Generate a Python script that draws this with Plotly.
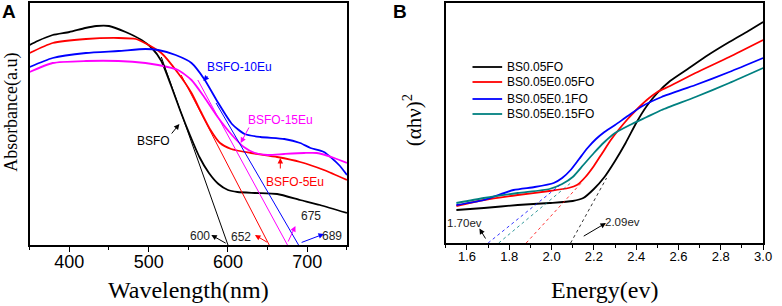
import plotly.graph_objects as go

# ---------------- Panel A data (wavelength nm, absorbance a.u.) ----------------
bsfo_wl = [350, 360, 379, 400, 420, 434, 450, 471, 491, 504, 516, 528, 540, 552, 564, 576, 588, 600, 612, 634, 662, 691, 716, 750]
bsfo_ab = [2.00, 2.04, 2.10, 2.13, 2.17, 2.19, 2.19, 2.13, 2.05, 1.97, 1.84, 1.60, 1.34, 1.10, 0.88, 0.72, 0.61, 0.55, 0.53, 0.52, 0.51, 0.45, 0.40, 0.32]

eu5_wl = [350, 379, 421, 462, 484, 500, 516, 537, 554, 566, 578, 590, 604, 629, 662, 691, 721, 750]
eu5_ab = [1.92, 2.02, 2.06, 2.07, 2.06, 2.00, 1.92, 1.72, 1.52, 1.33, 1.15, 1.02, 0.96, 0.92, 0.88, 0.83, 0.75, 0.65]

eu10_wl = [350, 379, 421, 462, 496, 512, 534, 554, 570, 587, 605, 621, 641, 671, 691, 704, 721, 740, 750]
eu10_ab = [1.78, 1.87, 1.92, 1.94, 1.96, 1.95, 1.90, 1.82, 1.66, 1.43, 1.21, 1.11, 1.08, 1.06, 1.02, 0.97, 0.93, 0.80, 0.70]

eu15_wl = [350, 379, 421, 462, 496, 512, 537, 554, 570, 587, 605, 620, 634, 650, 671, 696, 712, 734, 750]
eu15_ab = [1.73, 1.82, 1.84, 1.84, 1.82, 1.80, 1.75, 1.65, 1.48, 1.28, 1.10, 0.98, 0.92, 0.90, 0.91, 0.92, 0.92, 0.87, 0.82]

# tangent (extrapolation) lines, panel A
tan_a_black_x = [600, 516]
tan_a_black_y = [0.0, 1.88]
tan_a_red_x = [652, 541]
tan_a_red_y = [0.0, 1.70]
tan_a_mag_x = [675, 562]
tan_a_mag_y = [0.0, 1.65]
tan_a_blue_x = [689, 585]
tan_a_blue_y = [0.0, 1.42]

# ---------------- Panel B data (energy eV, (ahv)^2) ----------------
b1_e = [1.55, 1.68, 1.84, 1.99, 2.10, 2.15, 2.20, 2.25, 2.30, 2.35, 2.40, 2.45, 2.50, 2.56, 2.65, 2.74, 2.84, 2.93, 3.00]
b1_v = [0.33, 0.35, 0.38, 0.40, 0.42, 0.45, 0.54, 0.66, 0.82, 1.00, 1.20, 1.37, 1.50, 1.62, 1.75, 1.88, 2.01, 2.12, 2.21]

b2_e = [1.55, 1.68, 1.84, 1.99, 2.08, 2.12, 2.16, 2.20, 2.24, 2.28, 2.32, 2.36, 2.40, 2.45, 2.50, 2.56, 2.68, 2.84, 3.00]
b2_v = [0.37, 0.43, 0.48, 0.52, 0.55, 0.58, 0.66, 0.77, 0.90, 1.03, 1.14, 1.24, 1.33, 1.43, 1.51, 1.57, 1.70, 1.86, 2.03]

b3_e = [1.55, 1.68, 1.82, 1.92, 2.01, 2.05, 2.09, 2.13, 2.17, 2.21, 2.25, 2.30, 2.36, 2.43, 2.52, 2.68, 2.84, 3.00]
b3_v = [0.38, 0.43, 0.53, 0.56, 0.60, 0.65, 0.73, 0.84, 0.95, 1.04, 1.11, 1.18, 1.27, 1.37, 1.46, 1.58, 1.71, 1.85]

b4_e = [1.55, 1.68, 1.84, 1.99, 2.05, 2.10, 2.15, 2.20, 2.25, 2.30, 2.37, 2.45, 2.52, 2.68, 2.84, 3.00]
b4_v = [0.40, 0.45, 0.50, 0.54, 0.59, 0.66, 0.78, 0.90, 1.01, 1.10, 1.18, 1.26, 1.33, 1.46, 1.60, 1.75]

b_names = ["BS0.05FO", "BS0.05E0.05FO", "BS0.05E0.1FO", "BS0.05E0.15FO"]
b_colors = ["#000000", "#ff0000", "#0000ff", "#008080"]

tan_b_x = [[2.09, 2.26], [1.88, 2.14], [1.70, 2.04], [1.75, 2.09]]
tan_b_y = [[0.0, 0.65], [0.0, 0.60], [0.0, 0.58], [0.0, 0.60]]

W, H = 782, 306
SANS = "Liberation Sans, Arial, sans-serif"
SERIF = "Liberation Serif, Times New Roman, serif"

fig = go.Figure()

def line(x, y, color, width, xa="x", ya="y", dash="solid", shape="spline"):
    fig.add_trace(go.Scatter(x=x, y=y, mode="lines", xaxis=xa, yaxis=ya,
                             line=dict(color=color, width=width, dash=dash, shape=shape, smoothing=0.6),
                             showlegend=False, hoverinfo="skip"))

# Panel A
line(bsfo_wl, bsfo_ab, "#000000", 1.8)
line(eu5_wl, eu5_ab, "#ff0000", 1.8)
line(eu10_wl, eu10_ab, "#0000ff", 1.8)
line(eu15_wl, eu15_ab, "#ff00ff", 1.8)
line(tan_a_black_x, tan_a_black_y, "#000000", 1, shape="linear")
line(tan_a_red_x, tan_a_red_y, "#ff0000", 1, shape="linear")
line(tan_a_mag_x, tan_a_mag_y, "#ff00ff", 1, shape="linear")
line(tan_a_blue_x, tan_a_blue_y, "#0000ff", 1, shape="linear")

# Panel B
for e, v, c in zip([b1_e, b2_e, b3_e, b4_e], [b1_v, b2_v, b3_v, b4_v], b_colors):
    line(e, v, c, 1.8, xa="x2", ya="y2")
for tx, ty, c in zip(tan_b_x, tan_b_y, b_colors):
    line(tx, ty, c, 0.8, xa="x2", ya="y2", dash="dot", shape="linear")

axis_common = dict(showline=True, linecolor="black", linewidth=1.5, mirror=True,
                   showgrid=False, zeroline=False)

fig.update_layout(
    width=W, height=H, margin=dict(l=0, r=0, t=0, b=0),
    paper_bgcolor="white", plot_bgcolor="white", showlegend=False,
    xaxis=dict(domain=[30 / W, 351 / W], range=[350, 750], anchor="y",
               ticks="outside", ticklen=5, tickwidth=1.2, tickcolor="black",
               ticklabelstandoff=-5,
               dtick=100, tick0=0, minor=dict(dtick=50, ticks="outside", ticklen=3, tickcolor="black"),
               tickfont=dict(family=SANS, size=18, color="black"), **axis_common),
    yaxis=dict(domain=[1 - 245 / H, 1 - 3 / H], range=[0, 2.42], anchor="x",
               showticklabels=False, ticks="", **axis_common),
    xaxis2=dict(domain=[451 / W, 772 / W], range=[1.5, 3.0], anchor="y2",
                ticks="outside", ticklen=5, tickwidth=1.2, tickcolor="black",
                ticklabelstandoff=-4,
                dtick=0.2, tick0=1.6, tickformat=".1f",
                minor=dict(dtick=0.1, ticks="outside", ticklen=3, tickcolor="black"),
                tickfont=dict(family=SANS, size=13, color="black"), **axis_common),
    yaxis2=dict(domain=[1 - 243 / H, 1 - 3 / H], range=[0, 2.40], anchor="x2",
                showticklabels=False, ticks="", **axis_common),
)

def ptext(px, py, text, size, family, color="black", angle=0, bold=False):
    fig.add_annotation(x=px / W, y=1 - py / H, xref="paper", yref="paper",
                       text=f"<b>{text}</b>" if bold else text, showarrow=False,
                       textangle=angle, xanchor="center", yanchor="middle",
                       font=dict(family=family, size=size, color=color))

# axis titles & panel labels
ptext(191, 290, "Wavelength(nm)", 24, SERIF)
ptext(612, 290, "Energy(ev)", 24, SERIF)
ptext(11, 112, "Absorbance(a.u)", 18, SERIF, angle=-90)
ptext(418, 120, "(αhν)<sup>2</sup>", 21, SERIF, angle=-90)
ptext(9, 12, "A", 19, SANS, bold=True)
ptext(405, 12, "B", 19, SANS, bold=True)

def dtext(x, y, text, color, xr="x", yr="y", size=12):
    fig.add_annotation(x=x, y=y, xref=xr, yref=yr, text=text, showarrow=False,
                       xanchor="center", yanchor="middle",
                       font=dict(family=SANS, size=size, color=color))

def darrow(hx, hy, tx, ty, color, xr="x", yr="y"):
    fig.add_annotation(x=hx, y=hy, ax=tx, ay=ty, xref=xr, yref=yr, axref=xr, ayref=yr,
                       text="", showarrow=True, arrowhead=2, arrowsize=1.1, arrowwidth=1,
                       arrowcolor=color, standoff=0, startstandoff=0)

# Panel A labels
dtext(506, 1.04, "BSFO", "black")
darrow(538.75, 1.21, 527.5, 1.10, "black")
dtext(615, 1.78, "BSFO-10Eu", "#0000ff")
darrow(569, 1.64, 576, 1.70, "#0000ff")
dtext(666, 1.25, "BSFO-15Eu", "#ff00ff")
darrow(616, 1.02, 627.5, 1.19, "#ff00ff")
dtext(684, 0.63, "BSFO-5Eu", "#ff0000")
darrow(666, 0.87, 666, 0.75, "#ff0000")

dtext(565, 0.09, "600", "#222222")
darrow(579, 0.10, 599, 0.01, "black")
dtext(616, 0.08, "652", "#222222")
darrow(634, 0.10, 651, 0.02, "#ff0000")
dtext(705, 0.29, "675", "#222222")
darrow(685, 0.19, 675, 0.02, "#ff00ff")
dtext(731, 0.09, "689", "#222222")
darrow(721, 0.11, 691, 0.02, "#0000ff")

# Panel B labels
dtext(1.589, 0.20, "1.70ev", "#222222", "x2", "y2", size=11.5)
darrow(1.659, 0.145, 1.692, 0.03, "black", "x2", "y2")
dtext(2.336, 0.21, "2.09ev", "#222222", "x2", "y2", size=11.5)
darrow(2.257, 0.20, 2.145, 0.06, "black", "x2", "y2")

# Panel B key (legend)
rows = [67, 82, 99, 114]
for name, c, ry in zip(b_names, b_colors, rows):
    fig.add_shape(type="line", xref="paper", yref="paper",
                  x0=478 / W, x1=508 / W, y0=1 - ry / H, y1=1 - ry / H,
                  line=dict(color=c, width=1.8))
    fig.add_annotation(x=511 / W, y=1 - ry / H, xref="paper", yref="paper", text=name,
                       showarrow=False, xanchor="left", yanchor="middle",
                       font=dict(family=SANS, size=12, color="black"))

fig.write_html("out.html", config={"displayModeBar": False},
               post_script="document.body.style.margin='0';document.body.style.overflow='hidden';")
